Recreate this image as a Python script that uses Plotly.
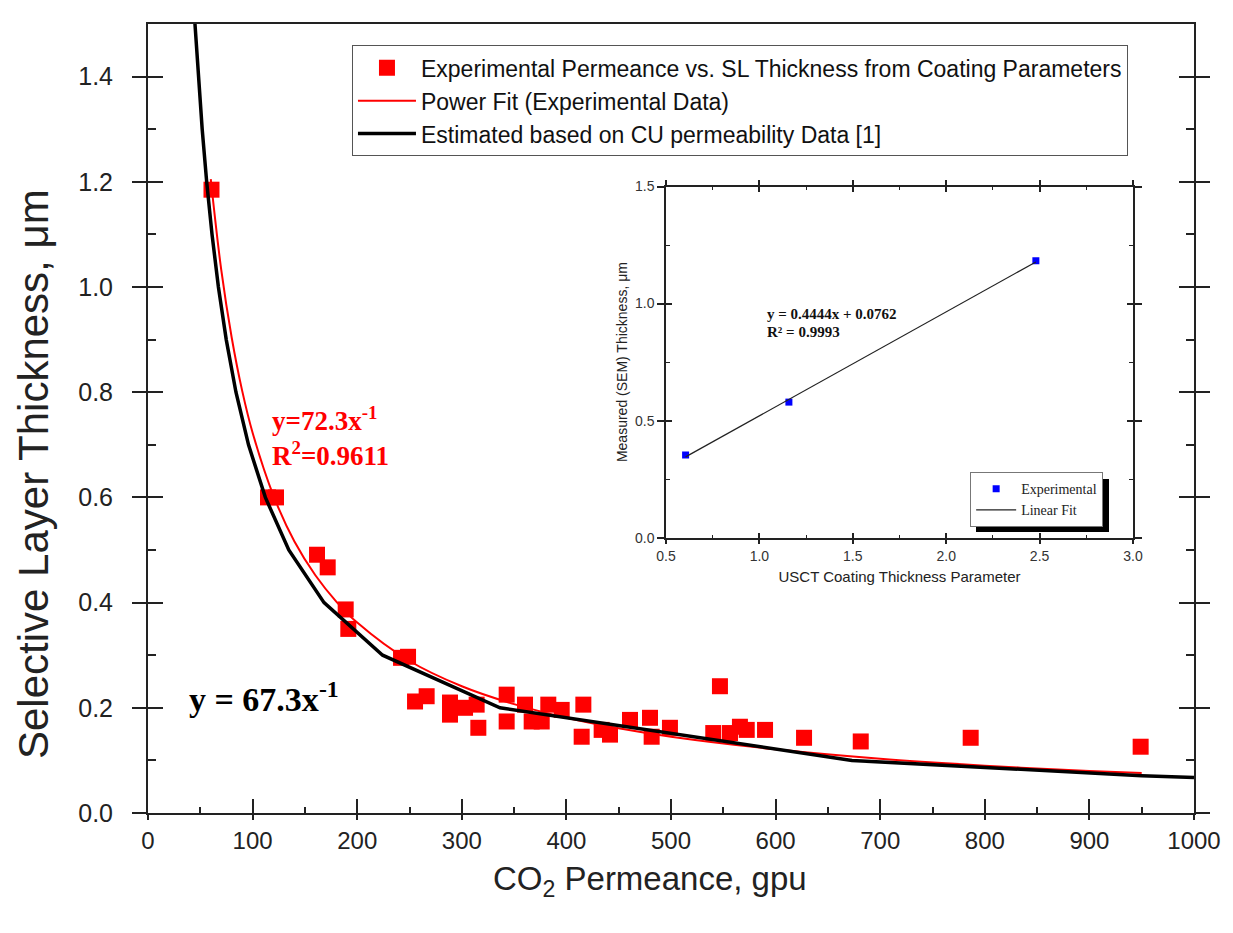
import plotly.graph_objects as go

# ---------------- data ----------------
exp_gpu = [60.7, 114.7, 122.4, 161.6, 171.8, 189.0, 191.5, 241.9, 248.6, 255.3,
           266.4, 288.7, 288.7, 303.1, 314.2, 315.8, 342.9, 342.9, 360.4, 366.8,
           376.4, 382.7, 395.5, 416.2, 414.6, 433.7, 441.7, 460.8, 479.9, 481.5,
           499.0, 546.8, 540.4, 556.4, 565.9, 572.4, 589.9, 627.2, 681.4, 786.5,
           949.0]
exp_thk = [1.185, 0.600, 0.600, 0.491, 0.467, 0.387, 0.350, 0.295, 0.297, 0.212,
           0.222, 0.210, 0.187, 0.200, 0.206, 0.162, 0.225, 0.174, 0.206, 0.174,
           0.174, 0.206, 0.196, 0.206, 0.145, 0.158, 0.149, 0.177, 0.181, 0.145,
           0.162, 0.241, 0.152, 0.152, 0.164, 0.158, 0.158, 0.143, 0.136, 0.143,
           0.126]

fit_gpu = [60, 70, 80, 90, 100, 120, 140, 160, 180, 200, 250, 300, 350, 400,
           450, 500, 600, 700, 800, 900, 950]
fit_thk = [1.205, 1.033, 0.904, 0.803, 0.723, 0.603, 0.516, 0.452, 0.402, 0.362,
           0.289, 0.241, 0.207, 0.181, 0.161, 0.145, 0.121, 0.103, 0.090, 0.080,
           0.076]

cu_gpu = [44.9, 48.1, 51.8, 56.1, 61.2, 67.3, 74.8, 84.1, 96.1, 112.2, 134.6,
          168.3, 224.3, 336.5, 673.0, 950.0, 1000.0]
cu_thk = [1.5, 1.4, 1.3, 1.2, 1.1, 1.0, 0.9, 0.8, 0.7, 0.6, 0.5,
          0.4, 0.3, 0.2, 0.1, 0.071, 0.0673]

inset_x = [0.605, 1.158, 2.48]
inset_y = [0.353, 0.579, 1.183]
inset_fit_x = [0.605, 2.48]
inset_fit_y = [0.345, 1.178]

x_ticks = [0, 100, 200, 300, 400, 500, 600, 700, 800, 900, 1000]
y_ticks = [0.0, 0.2, 0.4, 0.6, 0.8, 1.0, 1.2, 1.4]
ix_ticks = [0.5, 1.0, 1.5, 2.0, 2.5, 3.0]
iy_ticks = [0.0, 0.5, 1.0, 1.5]

SANS = "Arial, Liberation Sans, sans-serif"
SERIF = "Times New Roman, Liberation Serif, serif"
AX = "#222222"

fig = go.Figure()

fig.add_trace(go.Scatter(
    x=exp_gpu, y=exp_thk, mode="markers",
    marker=dict(symbol="square", size=16, color="#FF0000"),
    name="Experimental Permeance vs. SL Thickness from Coating Parameters",
    legend="legend"))
fig.add_trace(go.Scatter(
    x=fit_gpu, y=fit_thk, mode="lines", line=dict(color="#FF0000", width=2, shape="spline"),
    name="Power Fit (Experimental Data)", legend="legend"))
fig.add_trace(go.Scatter(
    x=cu_gpu, y=cu_thk, mode="lines", line=dict(color="#000000", width=3.5),
    name="Estimated based on CU permeability Data [1]", legend="legend"))

# inset
fig.add_trace(go.Scatter(
    x=inset_x, y=inset_y, mode="markers", xaxis="x2", yaxis="y2",
    marker=dict(symbol="square", size=7, color="#0000FF"),
    name="Experimental", legend="legend2"))
fig.add_trace(go.Scatter(
    x=inset_fit_x, y=inset_fit_y, mode="lines", xaxis="x2", yaxis="y2",
    line=dict(color="#222222", width=1.2),
    name="Linear Fit", legend="legend2"))

# dummy traces for overlay tick axes
fig.add_trace(go.Scatter(x=[None], y=[None], xaxis="x3", yaxis="y3", showlegend=False, hoverinfo="skip"))
fig.add_trace(go.Scatter(x=[None], y=[None], xaxis="x4", yaxis="y4", showlegend=False, hoverinfo="skip"))

in_dom_x = [0.4952, 0.9417]
in_dom_y = [0.349, 0.794]

fig.update_layout(
    width=1233, height=933,
    margin=dict(l=148, r=39, t=24, b=120),
    paper_bgcolor="white", plot_bgcolor="white",
    font=dict(family=SANS, color=AX),
    xaxis=dict(domain=[0, 1], range=[0, 1000], tickvals=x_ticks,
               ticks="outside", ticklen=5, tickwidth=2, tickcolor=AX,
               showline=True, linewidth=2, linecolor=AX, mirror=True,
               showgrid=False, zeroline=False,
               tickfont=dict(size=24, family=SANS, color=AX)),
    yaxis=dict(domain=[0, 1], range=[0, 1.5], tickvals=y_ticks, ticktext=[f"{v:.1f}" for v in y_ticks],
               ticks="outside", ticklen=14, tickwidth=2, tickcolor=AX,
               showline=True, linewidth=2, linecolor=AX, mirror="ticks",
               showgrid=False, zeroline=False, ticklabelstandoff=14,
               tickfont=dict(size=25, family=SANS, color=AX)),
    xaxis3=dict(overlaying="x", anchor="y3", range=[0, 1000], tickvals=x_ticks,
                ticks="inside", ticklen=14, tickwidth=2, tickcolor=AX,
                minor=dict(ticks="inside", ticklen=6, tickwidth=2, tickcolor=AX, dtick=50),
                showticklabels=False, showline=False, showgrid=False, zeroline=False),
    yaxis3=dict(overlaying="y", anchor="x3", range=[0, 1.5], tickvals=y_ticks,
                ticks="inside", ticklen=15, tickwidth=2, tickcolor=AX, mirror="ticks",
                minor=dict(ticks="inside", ticklen=8, tickwidth=2, tickcolor=AX, dtick=0.1),
                showticklabels=False, showline=False, showgrid=False, zeroline=False),
    xaxis2=dict(domain=in_dom_x, anchor="y2", range=[0.5, 3.0], tickvals=ix_ticks,
                ticktext=[f"{v:.1f}" for v in ix_ticks],
                ticks="outside", ticklen=5, tickwidth=1.5, tickcolor=AX, mirror="ticks",
                showline=True, linewidth=1.5, linecolor=AX,
                showgrid=False, zeroline=False,
                tickfont=dict(size=14, family=SANS, color="#333333"),
                title=dict(text="USCT Coating Thickness Parameter",
                           font=dict(size=15, family=SANS, color=AX), standoff=8)),
    yaxis2=dict(domain=in_dom_y, anchor="x2", range=[0, 1.5], tickvals=iy_ticks,
                ticktext=[f"{v:.1f}" for v in iy_ticks],
                ticks="outside", ticklen=7, tickwidth=1.5, tickcolor=AX, mirror="ticks",
                showline=True, linewidth=1.5, linecolor=AX,
                showgrid=False, zeroline=False,
                tickfont=dict(size=14, family=SANS, color="#333333"),
                title=dict(text="Measured (SEM) Thickness, μm",
                           font=dict(size=14, family=SANS, color=AX), standoff=4)),
    xaxis4=dict(overlaying="x2", anchor="y4", range=[0.5, 3.0], tickvals=ix_ticks,
                ticks="inside", ticklen=5, tickwidth=1.5, tickcolor=AX, mirror="ticks",
                minor=dict(ticks="inside", ticklen=3, tickwidth=1.2, tickcolor=AX, dtick=0.25),
                showticklabels=False, showline=False, showgrid=False, zeroline=False),
    yaxis4=dict(overlaying="y2", anchor="x4", range=[0, 1.5], tickvals=iy_ticks,
                ticks="inside", ticklen=6, tickwidth=1.5, tickcolor=AX, mirror="ticks",
                minor=dict(ticks="inside", ticklen=4, tickwidth=1.2, tickcolor=AX, dtick=0.25),
                showticklabels=False, showline=False, showgrid=False, zeroline=False),
    legend=dict(x=0.195, y=0.973, xanchor="left", yanchor="top",
                bgcolor="white", bordercolor="#555555", borderwidth=1,
                font=dict(size=23, family=SANS, color="#111111"),
                tracegroupgap=0, itemwidth=58),
    legend2=dict(x=0.786, y=0.432, xanchor="left", yanchor="top",
                 bgcolor="white", bordercolor="#777777", borderwidth=1,
                 font=dict(size=14, family=SERIF, color="#222222"),
                 tracegroupgap=0, itemwidth=40),
    showlegend=True,
)

# inset legend drop shadow (decoration)
fig.add_shape(type="rect", xref="paper", yref="paper",
              x0=(976 - 148) / 1046, x1=(1109 - 148) / 1046,
              y0=(813 - 532) / 789, y1=(813 - 479) / 789,
              fillcolor="black", line=dict(width=0), layer="above")

# axis titles
fig.add_annotation(x=(33 - 148) / 1046, y=(813 - 474) / 789, xref="paper", yref="paper",
                   xanchor="center", yanchor="middle", textangle=-90,
                   text="Selective Layer Thickness, μm", showarrow=False,
                   font=dict(size=42, family=SANS, color=AX))
fig.add_annotation(x=(650 - 148) / 1046, y=(813 - 881) / 789, xref="paper", yref="paper",
                   xanchor="center", yanchor="middle",
                   text="CO<sub>2</sub> Permeance, gpu", showarrow=False,
                   font=dict(size=33, family=SANS, color=AX))

# annotations
fig.add_annotation(x=117, y=0.749, xref="x", yref="y", xanchor="left", yanchor="middle",
                   text="<b>y=72.3x<sup>-1</sup></b>", showarrow=False,
                   font=dict(size=27, family=SERIF, color="#FF0000"))
fig.add_annotation(x=117, y=0.682, xref="x", yref="y", xanchor="left", yanchor="middle",
                   text="<b>R<sup>2</sup>=0.9611</b>", showarrow=False,
                   font=dict(size=27, family=SERIF, color="#FF0000"))
fig.add_annotation(x=37, y=0.22, xref="x", yref="y", xanchor="left", yanchor="middle",
                   text="<b>y = 67.3x<sup>-1</sup></b>", showarrow=False,
                   font=dict(size=34, family=SERIF, color="#000000"))
fig.add_annotation(x=1.03, y=0.956, xref="x2", yref="y2", xanchor="left", yanchor="middle",
                   text="<b>y = 0.4444x + 0.0762</b>", showarrow=False,
                   font=dict(size=15, family=SERIF, color="#111111"))
fig.add_annotation(x=1.03, y=0.88, xref="x2", yref="y2", xanchor="left", yanchor="middle",
                   text="<b>R² = 0.9993</b>", showarrow=False,
                   font=dict(size=15, family=SERIF, color="#111111"))

fig.write_html("out.html")
